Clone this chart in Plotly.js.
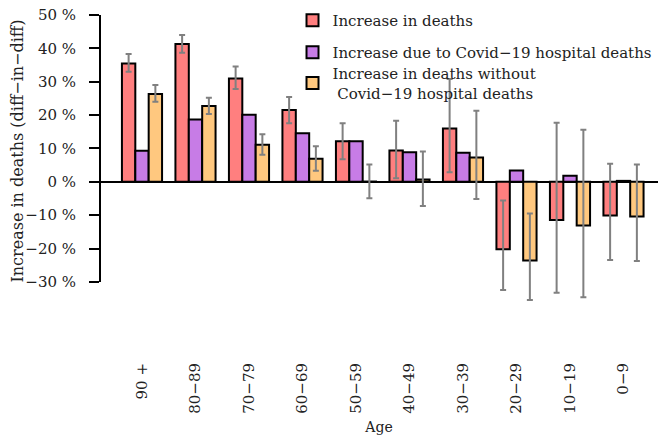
<!DOCTYPE html>
<html>
<head>
<meta charset="utf-8">
<script src="https://cdn.plot.ly/plotly-3.0.1.min.js"></script>
<style>html,body{margin:0;padding:0;background:#fff}#chart{width:658px;height:435px}</style>
</head>
<body>
<div id="chart"></div>
<script>
// Age groups (x categories)
const ageGroups = ["90 +", "80−89", "70−79", "60−69", "50−59", "40−49", "30−39", "20−29", "10−19", "0−9"];

// Increase in deaths (%), with confidence bounds
const totalIncrease = [35.5, 41.3, 31.0, 21.5, 12.2, 9.4, 16.0, -20.2, -11.4, -10.1];
const totalUpper    = [38.3, 44.0, 34.6, 25.4, 17.6, 18.3, 30.8, -5.6, 17.7, 5.4];
const totalLower    = [33.0, 38.7, 27.8, 17.6, 6.8, 1.1, 2.9, -32.4, -33.2, -23.4];

// Increase due to Covid-19 hospital deaths (%)
const covidIncrease = [9.3, 18.7, 20.1, 14.6, 12.2, 8.9, 8.7, 3.4, 1.8, 0.3];

// Increase in deaths without Covid-19 hospital deaths (%), with bounds
const nonCovidIncrease = [26.3, 22.7, 11.1, 6.9, 0.1, 0.7, 7.3, -23.6, -13.1, -10.4];
const nonCovidUpper    = [29.0, 25.2, 14.3, 10.7, 5.2, 9.1, 21.3, -9.5, 15.6, 5.2];
const nonCovidLower    = [24.0, 20.3, 8.1, 3.3, -4.9, -7.2, -5.1, -35.4, -34.6, -23.7];

const seriesNames = ["Increase in deaths", "Increase due to Covid−19 hospital deaths", "Increase in deaths without<br> Covid−19 hospital deaths"];
const yTickVals = [-30, -20, -10, 0, 10, 20, 30, 40, 50];
const yTickText = ["−30 %", "−20 %", "−10 %", "0 %", "10 %", "20 %", "30 %", "40 %", "50 %"];
const yAxisExtent = [-30, 50];   // extent of the drawn y axis line
const yRange = [-36, 50];        // room for the lowest error bars
const yTitle = "Increase in deaths (diff−in−diff)";

const FONT = "DejaVu Serif";
const TXT = "#222";
const errStyle = {color: "#808080", thickness: 2, width: 3};

function errBar(vals, up, lo) {
  return Object.assign({
    type: "data", symmetric: false, visible: true,
    array: vals.map((v, i) => up[i] - v),
    arrayminus: vals.map((v, i) => v - lo[i])
  }, errStyle);
}

const traces = [
  {type: "bar", x: ageGroups, y: totalIncrease, name: seriesNames[0], legend: "legend",
   marker: {color: "#FF7F7F", line: {color: "#000", width: 2}},
   error_y: errBar(totalIncrease, totalUpper, totalLower)},
  {type: "bar", x: ageGroups, y: covidIncrease, name: seriesNames[1], legend: "legend2",
   marker: {color: "#C77CE6", line: {color: "#000", width: 2}}},
  {type: "bar", x: ageGroups, y: nonCovidIncrease, name: seriesNames[2], legend: "legend3",
   marker: {color: "#FFC87F", line: {color: "#000", width: 2}},
   error_y: errBar(nonCovidIncrease, nonCovidUpper, nonCovidLower)}
];

const legBase = {bgcolor: "rgba(0,0,0,0)", borderwidth: 0, xanchor: "left", yanchor: "middle",
  font: {family: FONT, size: 15, color: TXT}, itemclick: false};

const layout = {
  width: 658, height: 435,
  margin: {l: 100, r: 0, t: 15, b: 133},
  paper_bgcolor: "#fff", plot_bgcolor: "#fff",
  font: {family: FONT, size: 15, color: TXT},
  barmode: "group", bargap: 0.25, bargroupgap: 0,
  showlegend: true,
  legend:  Object.assign({}, legBase, {x: 0.345, y: 0.9808}),
  legend2: Object.assign({}, legBase, {x: 0.345, y: 0.8693}),
  legend3: Object.assign({}, legBase, {x: 0.345, y: 0.7630}),
  xaxis: {
    type: "category", range: [-0.785, 9.645],
    showline: false, showgrid: false, zeroline: false, ticks: "",
    tickangle: -90, ticklabelstandoff: 57,
    tickfont: {family: FONT, size: 15, color: TXT},
    title: {text: "Age", font: {family: FONT, size: 14, color: TXT}, standoff: 16}
  },
  yaxis: {
    range: yRange, tickmode: "array", tickvals: yTickVals, ticktext: yTickText,
    showline: false,
    ticks: "outside", ticklen: 10, tickwidth: 2, tickcolor: "#000",
    ticklabelstandoff: 10,
    showgrid: false, zeroline: true, zerolinecolor: "#000", zerolinewidth: 2,
    tickfont: {family: FONT, size: 15, color: TXT}
  },
  annotations: [{text: yTitle, textangle: -90, showarrow: false,
    xref: "paper", yref: "paper", x: -0.1487, y: 0.5244, xanchor: "center", yanchor: "middle",
    font: {family: FONT, size: 16, color: TXT}}],
  shapes: [{type: "line", xref: "paper", yref: "y", x0: 0, x1: 0,
            y0: yAxisExtent[0], y1: yAxisExtent[1], line: {color: "#000", width: 2}}]
};

Plotly.newPlot("chart", traces, layout, {staticPlot: true, displayModeBar: false});
</script>
</body>
</html>
